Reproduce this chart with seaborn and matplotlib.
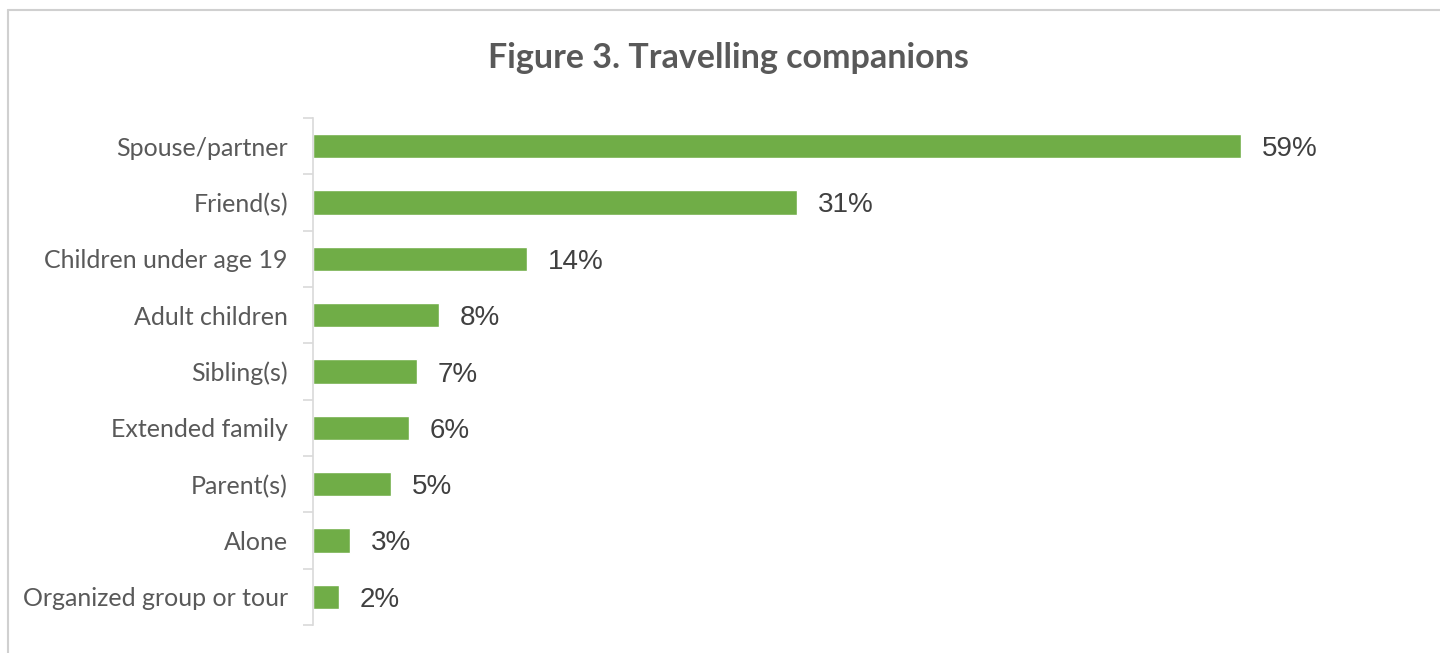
import numpy as np
import pandas as pd
import seaborn as sns
import matplotlib.pyplot as plt
from matplotlib.lines import Line2D

# dane (dlugosc slupkow w %)
categories = ["Spouse/partner", "Friend(s)", "Children under age 19", "Adult children",
              "Sibling(s)", "Extended family", "Parent(s)", "Alone", "Organized group or tour"]
values = [59.0, 30.8, 13.6, 8.0, 6.6, 6.1, 4.96, 2.35, 1.65]
labels = ["59%", "31%", "14%", "8%", "7%", "6%", "5%", "3%", "2%"]

df = pd.DataFrame({"Companion": categories, "Share": values})

sns.set_theme(style="white")
plt.rcParams['font.family'] = ['Lato', 'DejaVu Sans']

W, H = 1440, 653
fig = plt.figure(figsize=(W / 100, H / 100), dpi=100)
ax = fig.add_axes([313 / W, 28 / H, (1400 - 313) / W, 507 / H])

sns.barplot(data=df, x="Share", y="Companion", color="#70ad47", width=0.43,
            saturation=1, ax=ax, orient="h")

ax.set_xlim(0, 1087 / (928 / 59.0))
ax.set_ylim(len(categories) - 0.5, -0.5)

for p, lab in zip(ax.patches, labels):
    ax.annotate(lab, (p.get_width(), p.get_y() + p.get_height() / 2),
                xytext=(15, 0), textcoords="offset points", va="center_baseline", ha="left",
                fontsize=20, color="#404040", family=['Liberation Sans', 'DejaVu Sans'])

ax.set_xlabel("")
ax.set_ylabel("")
ax.set_xticks([])
for s in ["top", "right", "bottom"]:
    ax.spines[s].set_visible(False)
ax.spines["left"].set_color("#d9d9d9")
ax.spines["left"].set_linewidth(1.2)

ax.tick_params(axis="y", which="major", length=0, pad=18, labelsize=18, labelcolor="#595959")
ax.set_yticks(np.arange(-0.5, len(categories), 1), minor=True)
ax.tick_params(axis="y", which="minor", length=7, width=1.2, color="#d9d9d9", left=True)

fig.text(728 / W, 1 - 58 / H, "Figure 3. Travelling companions", ha="center", va="center",
         fontsize=24.5, fontweight="bold", color="#595959")

# ramka wokol wykresu (ucieta z prawej i od dolu)
fig.add_artist(Line2D([7.5 / W, 7.5 / W], [0, 1 - 9.5 / H], transform=fig.transFigure,
                      color="#d0d0d0", lw=1.5))
fig.add_artist(Line2D([7.5 / W, 1], [1 - 9.5 / H, 1 - 9.5 / H], transform=fig.transFigure,
                      color="#d0d0d0", lw=1.5))

fig.savefig("out.png", dpi=100, facecolor="white")
